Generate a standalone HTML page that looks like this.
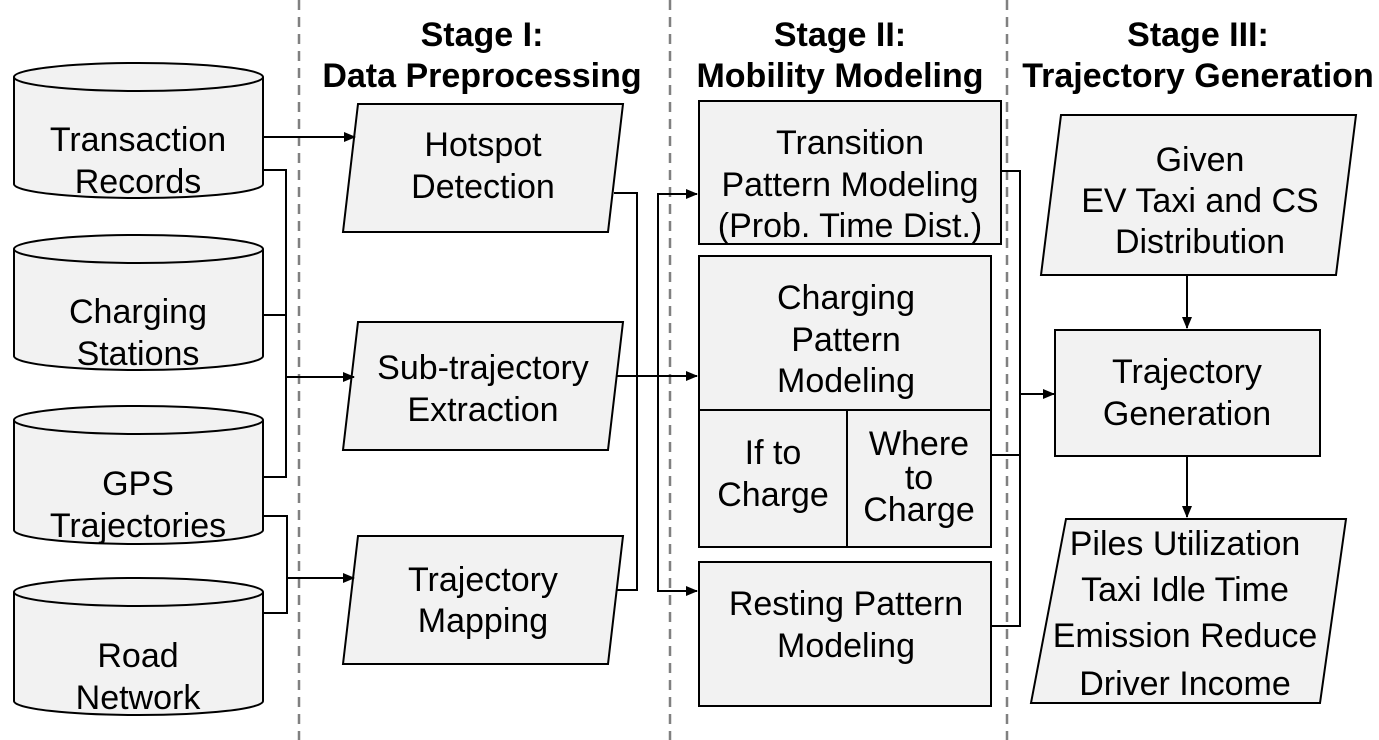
<!DOCTYPE html>
<html><head><meta charset="utf-8"><style>
html,body{margin:0;padding:0;background:#fff;}
svg{display:block;font-family:"Liberation Sans",Arial,sans-serif;}
</style></head><body>
<svg width="1379" height="740" viewBox="0 0 1379 740" xmlns="http://www.w3.org/2000/svg">
<defs><marker id="a" markerWidth="12" markerHeight="10" refX="11" refY="5" orient="auto" markerUnits="userSpaceOnUse"><path d="M0,0 L12,5 L0,10 z" fill="#000"/></marker></defs>
<g stroke="#808080" stroke-width="2.5" stroke-dasharray="10,7">
<line x1="299" y1="0" x2="299" y2="740"/><line x1="670" y1="0" x2="670" y2="740"/><line x1="1007" y1="0" x2="1007" y2="740"/></g>
<g font-weight="bold" font-size="34" text-anchor="middle" fill="#000">
<text x="482" y="46">Stage I:</text><text x="482" y="87">Data Preprocessing</text>
<text x="840" y="46">Stage II:</text><text x="840" y="87">Mobility Modeling</text>
<text x="1198" y="46">Stage III:</text><text x="1198" y="87">Trajectory Generation</text></g>
<g fill="#f2f2f2" stroke="#000" stroke-width="2">
<path d="M14,77 L14,184 A124.5,14 0 0 0 263,184 L263,77 A124.5,14 0 0 0 14,77 A124.5,14 0 0 0 263,77"/>
<path d="M14,249 L14,356 A124.5,14 0 0 0 263,356 L263,249 A124.5,14 0 0 0 14,249 A124.5,14 0 0 0 263,249"/>
<path d="M14,420 L14,530 A124.5,14 0 0 0 263,530 L263,420 A124.5,14 0 0 0 14,420 A124.5,14 0 0 0 263,420"/>
<path d="M14,592 L14,701 A124.5,14 0 0 0 263,701 L263,592 A124.5,14 0 0 0 14,592 A124.5,14 0 0 0 263,592"/>
<polygon points="358,104 623,104 608,232 343,232"/>
<polygon points="358,322 623,322 608,450 343,450"/>
<polygon points="358,536 623,536 608,664 343,664"/>
<rect x="699" y="101" width="302" height="143"/>
<rect x="699" y="256" width="292" height="291"/>
<line x1="699" y1="410" x2="991" y2="410"/><line x1="847" y1="410" x2="847" y2="547"/>
<rect x="699" y="562" width="292" height="144"/>
<polygon points="1061,115 1356,115 1336,275 1041,275"/>
<rect x="1055" y="330" width="265" height="126"/>
<polygon points="1066,519 1346,519 1320,703 1031,703"/>
</g>
<g fill="none" stroke="#000" stroke-width="2">
<line x1="263" y1="137" x2="355" y2="137" marker-end="url(#a)"/>
<polyline points="263,170 286,170 286,477 263,477"/>
<line x1="263" y1="315" x2="286" y2="315"/>
<line x1="286" y1="377" x2="354" y2="377" marker-end="url(#a)"/>
<polyline points="263,516 287,516 287,613 263,613"/>
<line x1="287" y1="578" x2="354" y2="578" marker-end="url(#a)"/>
<polyline points="614,193 637,193 637,590 617,590"/>
<line x1="617" y1="376" x2="697" y2="376" marker-end="url(#a)"/>
<polyline points="697,194 658,194 658,591 697,591"/>
<line x1="658" y1="194" x2="697" y2="194" marker-end="url(#a)"/>
<line x1="658" y1="591" x2="697" y2="591" marker-end="url(#a)"/>
<polyline points="1001,171 1020,171 1020,626 991,626"/>
<line x1="991" y1="455" x2="1020" y2="455"/>
<line x1="1020" y1="394" x2="1054" y2="394" marker-end="url(#a)"/>
<line x1="1187" y1="276" x2="1187" y2="328" marker-end="url(#a)"/>
<line x1="1187" y1="457" x2="1187" y2="517" marker-end="url(#a)"/>
</g>
<g font-size="34" text-anchor="middle" fill="#000">
<text x="138" y="151">Transaction</text><text x="138" y="193">Records</text>
<text x="138" y="323">Charging</text><text x="138" y="365">Stations</text>
<text x="138" y="495">GPS</text><text x="138" y="537">Trajectories</text>
<text x="138" y="667">Road</text><text x="138" y="709">Network</text>
<text x="483" y="156">Hotspot</text><text x="483" y="198">Detection</text>
<text x="483" y="379">Sub-trajectory</text><text x="483" y="421">Extraction</text>
<text x="483" y="591">Trajectory</text><text x="483" y="632">Mapping</text>
<text x="850" y="154">Transition</text><text x="850" y="196">Pattern Modeling</text><text x="850" y="237">(Prob. Time Dist.)</text>
<text x="846" y="309">Charging</text><text x="846" y="351">Pattern</text><text x="846" y="392">Modeling</text>
<text x="773" y="464">If to</text><text x="773" y="506">Charge</text>
<text x="919" y="455">Where</text><text x="919" y="489">to</text><text x="919" y="521">Charge</text>
<text x="846" y="615">Resting Pattern</text><text x="846" y="657">Modeling</text>
<text x="1200" y="171">Given</text><text x="1200" y="212">EV Taxi and CS</text><text x="1200" y="253">Distribution</text>
<text x="1187" y="383">Trajectory</text><text x="1187" y="425">Generation</text>
<text x="1185" y="555">Piles Utilization</text><text x="1185" y="601">Taxi Idle Time</text><text x="1185" y="647">Emission Reduce</text><text x="1185" y="695">Driver Income</text>
</g>
</svg>
</body></html>
